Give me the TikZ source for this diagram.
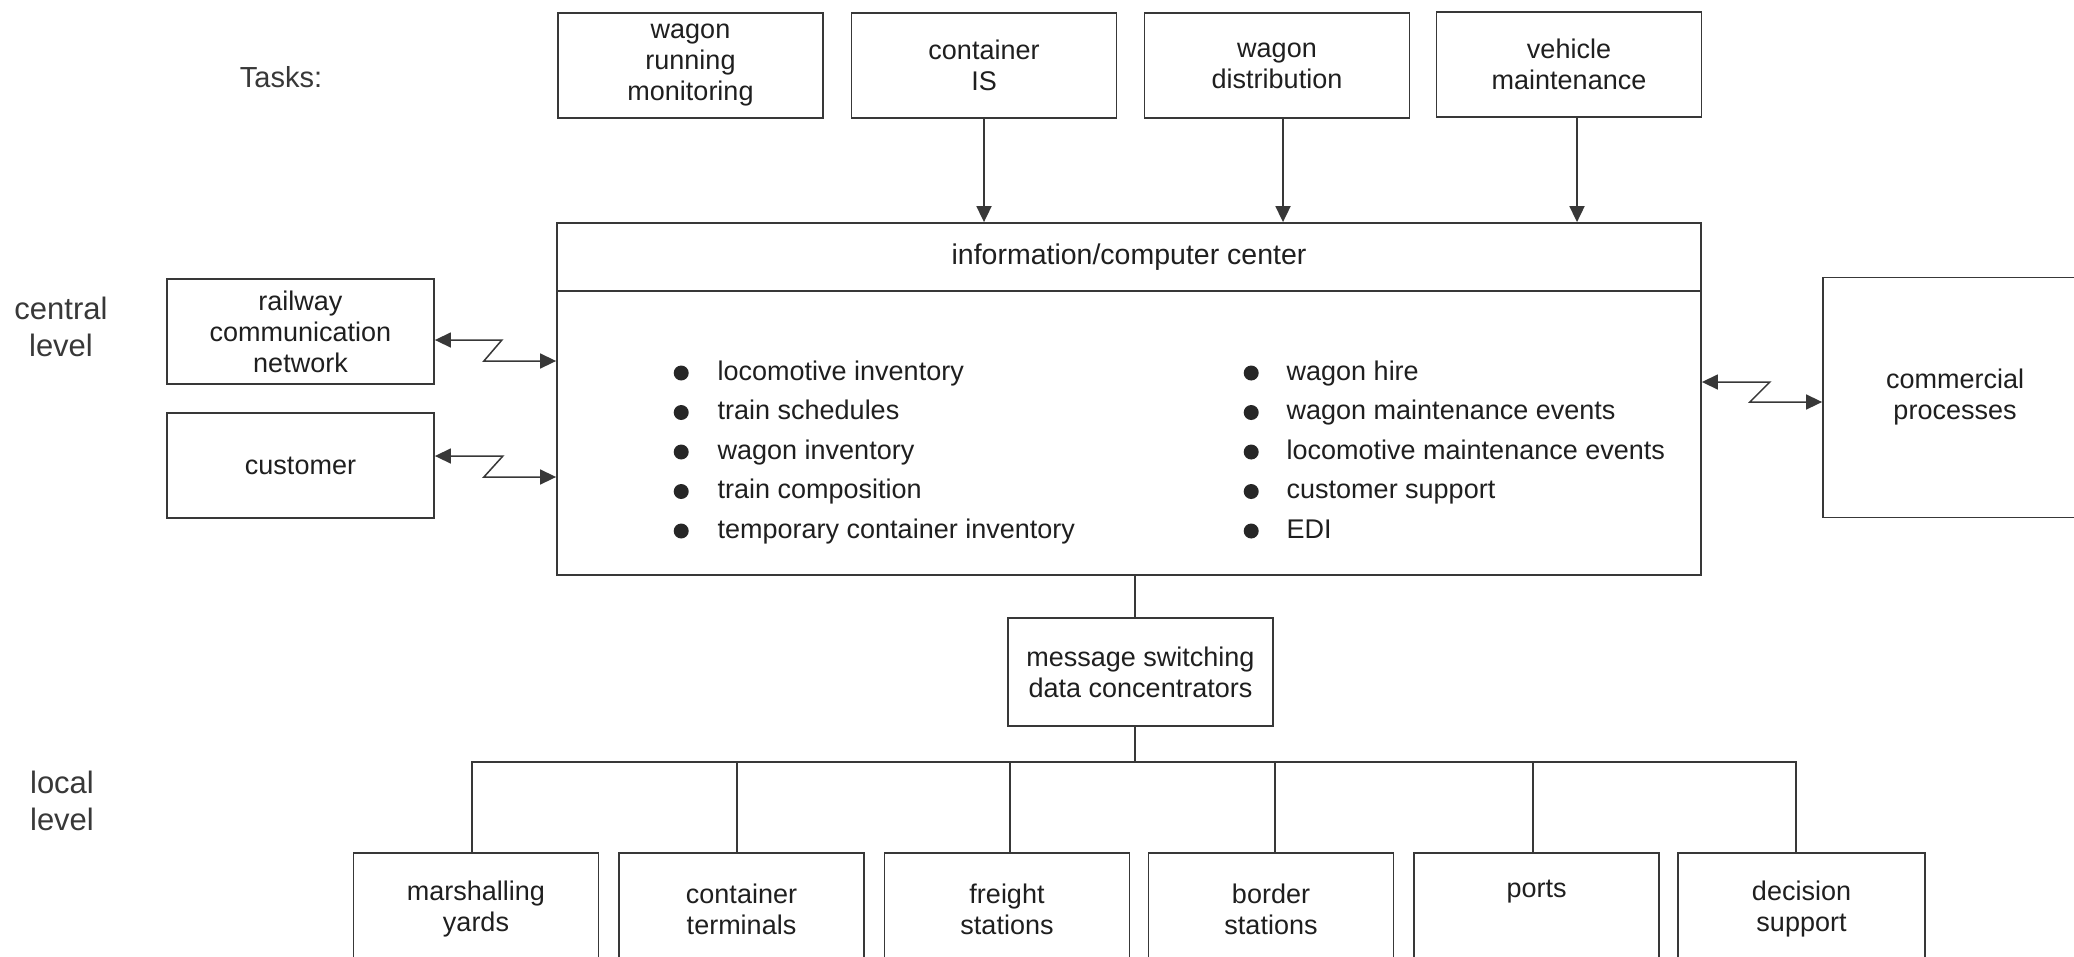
\documentclass[tikz,border=0pt]{standalone}
\usepackage{fontspec}
\setmainfont{Liberation Sans}
\usetikzlibrary{arrows.meta}

% filled round bullet for the item lists
\newcommand\bulletdot{\tikz[baseline=0pt]\fill[black!85] (0pt,7pt) circle[radius=7.5pt];}

\begin{document}
\begin{tikzpicture}[x=1pt,y=-1pt,
  >={Triangle[length=16pt,width=15pt]},
  box/.style={draw=black!78, line width=1.8pt, text=black!88, align=center,
    inner sep=0pt, font=\fontsize{27}{31}\selectfont},
  taskbox/.style={box, minimum width=265pt, minimum height=105pt},
  sidebox/.style={box, minimum width=267pt, minimum height=105pt},
  sitebox/.style={box, minimum width=245pt, minimum height=112pt},
  lbl/.style={text=black!78, align=center, inner sep=0pt,
    font=\fontsize{31}{37}\selectfont},
  items/.style={inner sep=0pt, text=black!88, anchor=base west,
    font=\fontsize{27}{39.5}\selectfont},
  link/.style={draw=black!78, line width=1.8pt}]

\useasboundingbox (0,0) rectangle (2074,956);
\fill[white] (0,0) rectangle (2074,956);
\clip (0,0) rectangle (2074,956);

% level labels
\node[lbl, font=\fontsize{29}{34}\selectfont] (tasks) at (281,77) {Tasks:};
\node[lbl] (central) at (61,327) {central\\level};
\node[lbl] (local) at (62,801) {local\\level};

% task boxes
\node[taskbox] (t1) at (690.5,65.5) {wagon\\running\\monitoring};
\node[taskbox] (t2) at (984,65.5) {container\\IS};
\node[taskbox] (t3) at (1277,65.5) {wagon\\distribution};
\node[taskbox] (t4) at (1569,64.5) {vehicle\\maintenance};

% central information/computer center
\node[box, minimum width=1144pt, minimum height=352pt] (main) at (1129,399) {};
\draw[link] ([yshift=-69pt]main.north west) -- ([yshift=-69pt]main.north east);
\node[box, draw=none, font=\fontsize{28.5}{33}\selectfont] (hdr) at (1129,257.5)
  {information/computer center};

\node[items] (listL) at (673.5,380) {%
  \begin{tabular}[t]{@{}c@{\hspace{29pt}}l@{}}
  \bulletdot & locomotive inventory\\
  \bulletdot & train schedules\\
  \bulletdot & wagon inventory\\
  \bulletdot & train composition\\
  \bulletdot & temporary container inventory
  \end{tabular}};
\node[items] (listR) at (1243.5,380) {%
  \begin{tabular}[t]{@{}c@{\hspace{28pt}}l@{}}
  \bulletdot & wagon hire\\
  \bulletdot & wagon maintenance events\\
  \bulletdot & locomotive maintenance events\\
  \bulletdot & customer support\\
  \bulletdot & EDI
  \end{tabular}};

% side partners
\node[sidebox] (rail) at (300.5,331.5) {railway\\communication\\network};
\node[sidebox] (cust) at (300.5,465.5) {customer};
\node[box, minimum width=264pt, minimum height=240pt] (comm) at (1955,397.5)
  {commercial\\processes};

% message switching and local sites
\node[box, minimum width=265pt, minimum height=108pt] (msg) at (1140.5,672)
  {message switching\\data concentrators};

\node[sitebox] (s1) at (476,909) {marshalling\\yards};
\node[sitebox] (s2) at (741.5,909) {container\\terminals};
\node[sitebox] (s3) at (1007,909) {freight\\stations};
\node[sitebox] (s4) at (1271,909) {border\\stations};
\node[sitebox] (s5) at (1536.5,909) {ports\\\strut};
\node[sitebox, minimum width=247pt] (s6) at (1801.5,909) {decision\\support};

% task feeds into the center
\draw[link,->] (t2.south) -- (t2.south |- main.north);
\draw[link,->] ([xshift=6pt]t3.south) -- ([xshift=6pt]t3.south |- main.north);
\draw[link,->] ([xshift=8pt]t4.south) -- ([xshift=8pt]t4.south |- main.north);

% telecommunication links (zigzag)
\draw[link,line width=1.5pt,<->] ([yshift=-8.5pt]rail.east) -- ++(67,0) -- ++(-18,21)
  coordinate (zr) -- (zr -| main.west);
\draw[link,line width=1.5pt,<->] ([yshift=9.5pt]cust.east) -- ++(68,0) -- ++(-19,21)
  coordinate (zc) -- (zc -| main.west);
\draw[link,line width=1.5pt,<->] ([yshift=17pt]main.east) -- ++(68,0) -- ++(-20,20)
  coordinate (zm) -- (zm -| comm.west);

% center to concentrators to sites
\draw[link] ([xshift=-5.5pt]msg.north) -- ([xshift=-5.5pt]msg.north |- main.south);
\draw[link] ([xshift=-5.5pt]msg.south) -- ++(0,35) coordinate (bus);
\draw[link] ([xshift=-4pt]s1.north) -- ([xshift=-4pt]s1.north |- bus)
  -- ([xshift=-5.5pt]s6.north |- bus) -- ([xshift=-5.5pt]s6.north);
\foreach \s/\dx in {s2/-4.5,s3/3,s4/4,s5/-3.5}
  \draw[link] ([xshift=\dx pt]\s.north) -- ([xshift=\dx pt]\s.north |- bus);

\end{tikzpicture}
\end{document}
